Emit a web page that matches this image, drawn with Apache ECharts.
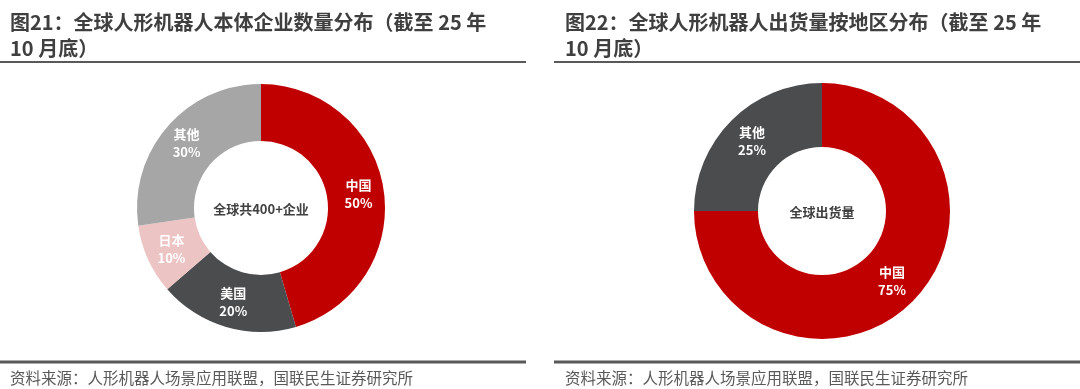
<!DOCTYPE html>
<html>
<head>
<meta charset="utf-8">
<script src="https://cdn.jsdelivr.net/npm/echarts@6/dist/echarts.min.js"></script>
<style>
  html, body { margin: 0; padding: 0; background: #fff; }
  #chart { width: 1080px; height: 389px; }
</style>
</head>
<body>
<div id="chart"></div>
<script>
// Figure 21: humanoid robot makers by region
const makerRegions = ['中国', '美国', '日本', '其他'];
const makerShares = [50, 20, 10, 30];
// Figure 22: humanoid robot shipments by region
const shipRegions = ['中国', '其他'];
const shipShares = [75, 25];

const titleLeft = '图21：全球人形机器人本体企业数量分布（截至 25 年\n10 月底）';
const titleRight = '图22：全球人形机器人出货量按地区分布（截至 25 年\n10 月底）';
const centerLeft = '全球共400+企业';
const centerRight = '全球出货量';
const sourceText = '资料来源：人形机器人场景应用联盟，国联民生证券研究所';

const FONT = '"Noto Sans CJK SC", "Noto Sans", sans-serif';
const RED = '#C00000';
const DARK = '#4B4C4E';
const LIGHT = '#A6A6A6';
const PINK = '#EDC4C4';

const makerColors = [RED, DARK, PINK, LIGHT];
const shipColors = [RED, DARK];

function toData(names, values, colors) {
  return names.map((n, i) => ({ name: n, value: values[i], itemStyle: { color: colors[i] } }));
}

const sliceLabel = {
  show: true,
  position: 'inside',
  formatter: p => p.name + '\n' + p.value + '%',
  color: '#fff',
  fontFamily: FONT,
  fontWeight: 'bold',
  fontSize: 13,
  lineHeight: 18
};

const chart = echarts.init(document.getElementById('chart'), null, { renderer: 'canvas' });

function hRule(x1, x2, y, w) {
  return { type: 'line', shape: { x1, y1: y, x2, y2: y }, style: { stroke: '#595959', lineWidth: w }, silent: true };
}
function label(x, y, text, style) {
  return { type: 'text', x, y, style: Object.assign({ text, fontFamily: FONT }, style), silent: true };
}

const titleStyle = { fontFamily: FONT, fontSize: 20, fontWeight: 'bold', color: '#3F3F3F', lineHeight: 26 };

chart.setOption({
  animation: false,
  backgroundColor: '#fff',
  title: [
    { text: titleLeft, left: 10, top: 9, padding: 0, textStyle: titleStyle },
    { text: titleRight, left: 565, top: 9, padding: 0, textStyle: titleStyle }
  ],
  graphic: [
    hRule(0, 526, 62, 2),
    hRule(554, 1080, 62, 2),
    hRule(0, 526, 362, 3),
    hRule(554, 1080, 362, 3),
    label(10, 378, sourceText, { fontSize: 15.5, fill: '#595959', textVerticalAlign: 'middle' }),
    label(565, 378, sourceText, { fontSize: 15.5, fill: '#595959', textVerticalAlign: 'middle' }),
    label(261, 209, centerLeft, { fontSize: 13, fontWeight: 'bold', fill: '#404040', textAlign: 'center', textVerticalAlign: 'middle' }),
    label(822, 212, centerRight, { fontSize: 13, fontWeight: 'bold', fill: '#404040', textAlign: 'center', textVerticalAlign: 'middle' })
  ],
  series: [
    {
      type: 'pie',
      center: [261, 208],
      radius: [67, 124],
      startAngle: 90,
      clockwise: true,
      avoidLabelOverlap: false,
      label: sliceLabel,
      labelLine: { show: false },
      emphasis: { disabled: true },
      itemStyle: { borderWidth: 0 },
      data: toData(makerRegions, makerShares, makerColors)
    },
    {
      type: 'pie',
      center: [822, 211],
      radius: [64, 128],
      startAngle: 90,
      clockwise: true,
      avoidLabelOverlap: false,
      label: sliceLabel,
      labelLine: { show: false },
      emphasis: { disabled: true },
      itemStyle: { borderWidth: 0 },
      data: toData(shipRegions, shipShares, shipColors)
    }
  ]
});
</script>
</body>
</html>
